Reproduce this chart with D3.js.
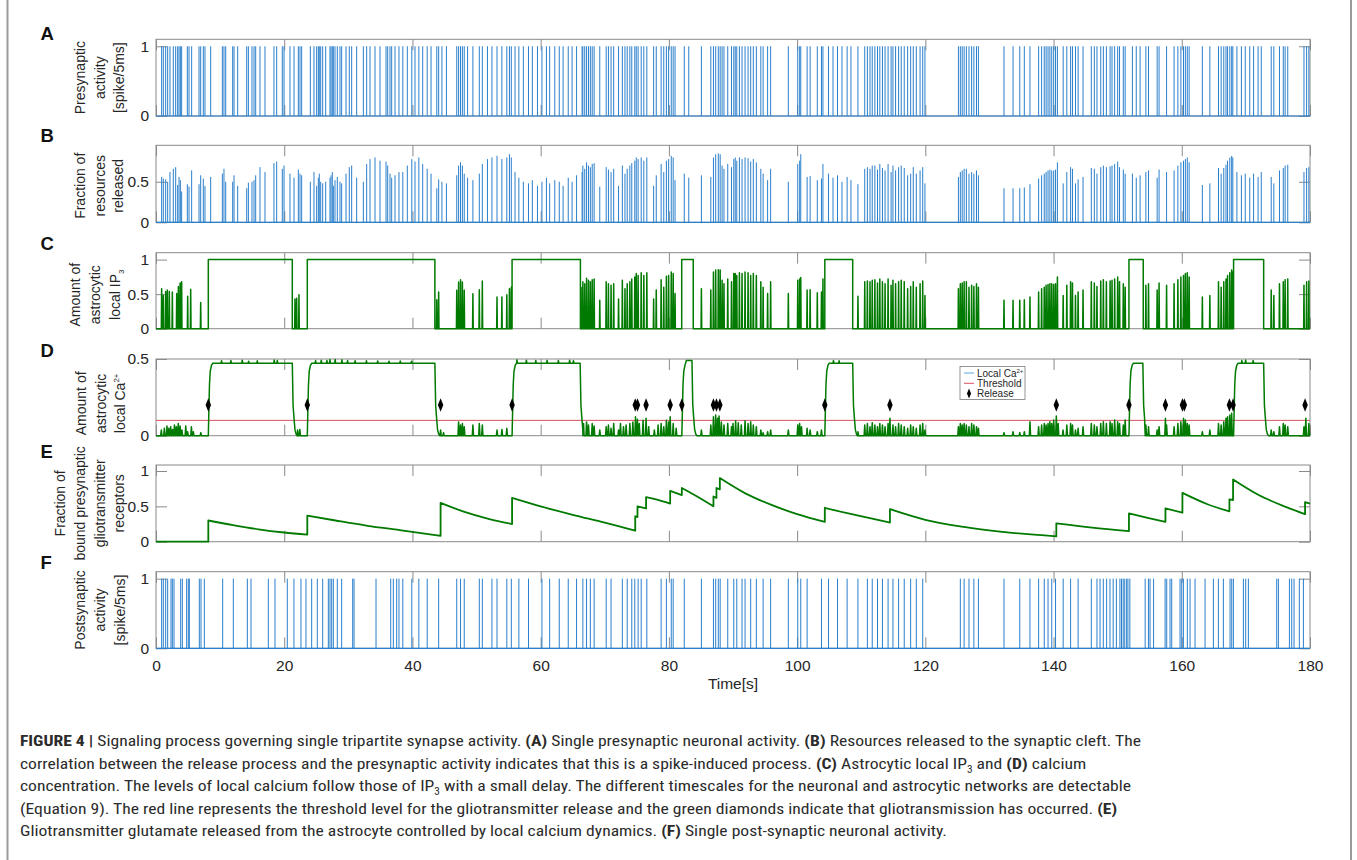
<!DOCTYPE html>
<html><head><meta charset="utf-8">
<script src="https://cdn.jsdelivr.net/npm/d3@7"></script>
<style>
body{margin:0;background:#fff;}
svg{display:block;font-family:"Liberation Sans",Arial,Helvetica,sans-serif;}
</style></head><body>
<svg id="chart" width="1357" height="860"></svg>
<script>
// ---------------- DATA ----------------
const xTicks = [0,20,40,60,80,100,120,140,160,180];
const yTicksA = [0,1], yTicksB = [0,0.5], yTicksC = [0,0.5,1], yTicksD = [0,0.5], yTicksE = [0,0.5,1], yTicksF = [0,1];

// (A)+(B) presynaptic spike times [s] with the fraction of resources released at each spike
const presynEvents = [[0.88,.56],[1.14,.54],[1.51,.53],[1.82,.5],[2.18,.62],[2.70,.66],[3.07,.68],[3.38,.46],[3.59,.56],[3.80,.52],[4.0,.38],[4.89,.47],[5.15,.44],[5.56,.64],[6.71,.47],[6.97,.58],[7.38,.54],[7.64,.45],[8.53,.56],[10.35,.6],[10.6,.66],[10.87,.5],[11.96,.5],[12.17,.58],[12.74,.45],[14.15,.42],[14.41,.49],[14.97,.5],[15.29,.52],[15.55,.58],[16.22,.68],[17.0,.62],[18.4,.73],[18.82,.75],[19.7,.66],[19.97,.7],[20.9,.6],[21.53,.55],[22.2,.65],[22.46,.6],[22.72,.58],[24.07,.5],[24.64,.62],[25.06,.45],[25.32,.55],[25.47,.6],[25.69,.5],[26.0,.48],[26.47,.5],[27.14,.55],[27.3,.58],[27.5,.62],[27.66,.45],[27.92,.52],[28.28,.56],[28.7,.5],[28.96,.48],[29.64,.6],[30.15,.68],[30.52,.7],[31.3,.55],[32.34,.5],[32.86,.72],[33.38,.78],[34.16,.8],[34.94,.76],[35.88,.75],[36.14,.7],[36.5,.6],[36.76,.55],[37.28,.58],[37.9,.62],
 [38.5,.62],[39.2,.7],[39.9,.78],[40.4,.75],[41.0,.8],[41.6,.72],[42.3,.66],[42.9,.6],
 [43.8,.42],[44.09,.53],[44.6,.5],[45.3,.48],[46.91,.58],[47.2,.7],[47.5,.74],[47.79,.7],[48.08,.6],[48.6,.55],[49.43,.52],[50.43,.6],[50.9,.72],[51.7,.78],[52.4,.8],[53.19,.82],[53.95,.78],[54.72,.8],[55.13,.84],[55.42,.8],
 [56.0,.62],[56.6,.55],[57.3,.5],[58.1,.48],[58.7,.52],[59.5,.45],[60.2,.5],[60.9,.55],[61.4,.48],[62.2,.52],[62.9,.5],[63.5,.45],[64.3,.55],[64.9,.5],[65.6,.58],
 [66.46,.62],[66.58,.7],[66.87,.66],[67.16,.74],[67.46,.7],[67.75,.68],[68.04,.72],[68.34,.73],[69.22,.44],[70.22,.68],[70.57,.65],[70.98,.62],[71.39,.66],[72.15,.45],[72.74,.7],[73.15,.6],[73.5,.66],[73.91,.7],[74.21,.73],[74.68,.76],[74.91,.8],[75.2,.78],[75.68,.8],[76.09,.76],[76.56,.8],[77.62,.45],[78.03,.58],[78.79,.72],[79.2,.62],[79.61,.76],[79.96,.78],[80.37,.82],[80.67,.8],[80.96,.52],
 [82.4,.6],[83.1,.55],
 [85.07,.58],[86.54,.56],[86.95,.8],[87.3,.84],[87.71,.85],[88.0,.84],[88.3,.7],[88.59,.66],[89.18,.72],[89.77,.68],[90.12,.78],[90.35,.8],[90.59,.76],[91.0,.8],[91.41,.78],[91.88,.8],[92.35,.79],[92.76,.75],[93.17,.78],[93.64,.74],[94.34,.66],[94.7,.6],[95.4,.52],[95.87,.66],
 [98.63,.5],[100.1,.72],[100.4,.76],[100.57,.84],[101.56,.56],[102.03,.57],[103.15,.52],[103.8,.54],[104.03,.72],
 [104.9,.6],[105.6,.55],[106.3,.58],[107.0,.5],[107.8,.56],[108.4,.52],
 [109.49,.47],[110.55,.66],[110.96,.68],[111.37,.66],[111.72,.7],[112.13,.7],[112.54,.65],[112.9,.72],[113.31,.67],[113.72,.64],[114.19,.72],[114.66,.62],[114.95,.7],[115.36,.64],[115.83,.68],[116.24,.7],[116.71,.67],[117.24,.58],[117.71,.6],[118.12,.68],[118.59,.6],[119.18,.64],[119.59,.68],[119.94,.48],
 [125.16,.56],[125.46,.62],[125.75,.64],[126.05,.66],[126.4,.66],[126.81,.6],[127.22,.62],[127.57,.6],[127.98,.64],[128.28,.58],
 [132.27,.42],[133.68,.42],[134.73,.42],[135.44,.43],[136.32,.47],
 [137.67,.54],[138.14,.58],[138.55,.6],[138.84,.62],[139.14,.64],[139.43,.65],[139.72,.64],[140.02,.64],[140.31,.65],[140.6,.74],
 [141.5,.48],[142.07,.62],[142.66,.68],[142.95,.66],[143.42,.48],[143.83,.53],[144.6,.56],
 [145.89,.67],[146.36,.66],[146.77,.6],[147.36,.68],[147.77,.7],[148.24,.68],[148.82,.69],[149.12,.7],[149.53,.72],[150.0,.75],[150.29,.68],[150.88,.65],[151.17,.6],
 [152.3,.6],[152.9,.55],[153.5,.58],
 [154.4,.62],[154.81,.64],[156.16,.55],[156.46,.65],[157.63,.62],[158.8,.64],[159.39,.7],[159.86,.74],[160.27,.76],[160.56,.78],[160.86,.8],[161.15,.74],
 [163.21,.46],[164.38,.48],[165.73,.67],[166.14,.6],[166.55,.67],[166.9,.71],[167.14,.76],[167.49,.8],[167.78,.82],[167.96,.8],
 [168.6,.62],[169.3,.58],[169.9,.6],[170.6,.55],[171.2,.6],[171.9,.56],[172.4,.62],
 [173.95,.56],[174.36,.48],[175.24,.64],[175.83,.67],[176.12,.7],[176.53,.71],[179.06,.62],[179.47,.67],[179.82,.68]];

// (F) postsynaptic spike times [s]
const postSpikes = [0.88,1.14,1.51,1.82,2.34,2.55,2.81,3.85,4.11,4.78,5.04,5.2,6.76,7.02,7.54,10.4,12.06,14.25,14.82,17.52,18.56,20.48,21.52,22.61,23.39,24.28,25.16,26.0,26.88,27.14,27.4,27.66,28.28,28.96,30.68,30.89,34.32,36.61,37.02,37.54,37.9,
 38.5,39.9,41.0,42.3,44.09,46.91,47.5,48.08,50.43,50.9,52.4,53.19,54.72,55.42,56.6,58.1,60.2,61.4,62.9,64.3,65.6,66.58,67.16,67.75,68.34,70.22,70.98,72.74,73.5,74.21,74.68,75.2,75.68,76.56,78.79,79.61,80.37,80.67,82.4,85.07,86.95,87.3,87.71,88.0,89.18,90.12,90.59,91.41,91.88,92.76,93.64,94.7,95.87,98.63,100.1,100.57,101.56,103.8,104.9,106.3,107.8,109.49,110.96,111.72,112.54,113.31,114.19,114.95,115.83,116.71,117.71,118.59,119.59,125.46,126.05,126.81,127.57,128.28,132.27,134.73,136.32,137.67,138.55,139.14,139.72,140.31,141.5,142.66,143.83,145.89,146.77,
 147.25,147.76,148.28,148.8,149.3,149.8,150.35,150.6,150.86,151.1,151.4,151.6,151.9,154.29,154.8,155.05,155.6,157.4,157.65,158.17,158.43,159.73,159.99,160.25,160.87,161.29,162.07,163.63,164.93,165.71,166.49,167.53,167.79,168.05,169.61,169.97,170.39,174.81,175.07,176.79,177.15,177.51,178.34,178.97];

// (C) astrocytic IP3: spikes [time, height] and saturated plateaus [start, end]
const ip3Spikes = [[0.88,0.58],[1.14,0.48],[1.51,0.54],[1.77,0.56],[2.08,0.54],[2.55,0.53],[3.23,0.51],[3.49,0.61],[3.76,0.66],[4.0,0.68],[4.94,0.47],[5.41,0.57],[6.97,0.38],
 [21.68,0.43],[21.94,0.44],[22.3,0.49],
 [43.8,0.42],[44.09,0.53],[46.91,0.556],[47.2,0.676],[47.5,0.71],[47.79,0.676],[48.08,0.556],[49.43,0.507],[50.43,0.565],[50.9,0.69],[53.19,0.46],[53.95,0.46],[54.72,0.49],[55.13,0.58],[55.42,0.6],
 [66.46,0.6],[66.58,0.68],[66.87,0.65],[67.16,0.73],[67.46,0.7],[67.75,0.68],[68.04,0.71],[68.34,0.72],[69.22,0.41],[70.22,0.68],[70.57,0.65],[70.98,0.63],[71.39,0.65],[72.15,0.43],[72.74,0.7],[73.15,0.58],[73.5,0.65],[73.91,0.68],[74.21,0.72],[74.68,0.75],[74.91,0.8],[75.2,0.77],[75.68,0.81],[76.09,0.77],[76.56,0.81],[77.62,0.43],[78.03,0.56],[78.79,0.71],[79.2,0.6],[79.61,0.76],[79.96,0.77],[80.37,0.82],[80.67,0.8],[80.96,0.51],
 [85.07,0.58],[86.54,0.56],[86.95,0.82],[87.3,0.85],[87.71,0.855],[88.0,0.85],[88.3,0.7],[88.59,0.65],[89.18,0.72],[89.77,0.68],[90.12,0.8],[90.35,0.8],[90.59,0.77],[91.0,0.81],[91.41,0.8],[91.88,0.82],[92.35,0.81],[92.76,0.77],[93.17,0.8],[93.64,0.77],[94.34,0.68],[94.7,0.6],[95.4,0.51],[95.87,0.68],
 [98.63,0.51],[100.1,0.7],[100.4,0.72],[100.57,0.74],[101.56,0.56],[102.03,0.565],[103.15,0.52],[103.8,0.53],[104.03,0.72],
 [109.49,0.47],[110.55,0.68],[110.96,0.69],[111.37,0.68],[111.72,0.7],[112.13,0.71],[112.54,0.66],[112.9,0.72],[113.31,0.68],[113.72,0.65],[114.19,0.72],[114.66,0.63],[114.95,0.7],[115.36,0.65],[115.83,0.68],[116.24,0.7],[116.71,0.68],[117.24,0.58],[117.71,0.61],[118.12,0.68],[118.59,0.6],[119.18,0.65],[119.59,0.69],[119.94,0.48],
 [125.16,0.58],[125.46,0.65],[125.75,0.66],[126.05,0.68],[126.4,0.68],[126.81,0.6],[127.22,0.63],[127.57,0.61],[127.98,0.65],[128.28,0.6],
 [132.27,0.41],[133.68,0.41],[134.73,0.41],[135.44,0.42],[136.32,0.46],
 [137.67,0.53],[138.14,0.58],[138.55,0.6],[138.84,0.63],[139.14,0.64],[139.43,0.65],[139.72,0.65],[140.02,0.64],[140.31,0.65],[140.6,0.75],
 [141.5,0.48],[142.07,0.63],[142.66,0.68],[142.95,0.66],[143.42,0.48],[143.83,0.53],[144.6,0.56],
 [145.89,0.68],[146.36,0.66],[146.77,0.61],[147.36,0.69],[147.77,0.71],[148.24,0.68],[148.82,0.69],[149.12,0.7],[149.53,0.72],[150.0,0.75],[150.29,0.68],[150.88,0.65],[151.17,0.6],
 [154.4,0.63],[154.81,0.65],[156.16,0.56],[156.46,0.66],[157.63,0.63],[158.8,0.65],[159.39,0.71],[159.86,0.75],[160.27,0.77],[160.56,0.8],[160.86,0.81],[161.15,0.75],
 [163.21,0.46],[164.38,0.48],[165.73,0.68],[166.14,0.6],[166.55,0.68],[166.9,0.72],[167.14,0.77],[167.49,0.81],[167.78,0.85],[167.96,0.82],
 [173.95,0.56],[174.36,0.48],[175.24,0.65],[175.83,0.68],[176.12,0.71],[176.53,0.72],[179.06,0.63],[179.47,0.68],[179.82,0.69]];
const ip3Plateaus = [[8.16,21.26],[23.6,43.5],[55.54,66.2],[82.0,83.8],[104.32,108.67],[151.76,153.99],[168.08,172.77]];

// (D) astrocytic Ca2+: high-state intervals [rise, fall, level], baseline bumps and plateau bumps [time, value]
const caPlateaus = [[8.16,21.26,0.472],[23.6,43.5,0.472],[55.54,66.16,0.472],[82.02,83.6,0.49],[104.32,108.67,0.472],[151.76,153.93,0.472],[168.08,172.77,0.472]];
const caRiseProfile = [[0,0],[0.08,0.15],[0.18,0.33],[0.3,0.42],[0.5,0.46],[0.7,1]];
const caFallProfile = [[0,1],[0.12,0.42],[0.26,0.25],[0.42,0.08],[0.6,0.02],[0.8,0]];
const caBumps = [[0.83,.037],[1.30,.048],[1.71,.063],[2.0,.048],[2.29,.059],[2.59,.041],[2.88,.07],[3.17,.059],[3.47,.08],[3.76,.063],[4.05,.037],[4.64,.063],[4.93,.026],[5.52,.059],[5.82,.026],[6.99,.02],
 [22.08,.037],[22.43,.041],
 [44.39,.037],[44.85,.02],[47.2,.09],[47.5,.07],[47.79,.08],[48.08,.059],[49.43,.07],[50.43,.08],[50.9,.07],[53.19,.037],[53.96,.041],[54.72,.048],
 [66.69,.08],[67.16,.09],[67.46,.07],[68.04,.08],[68.34,.063],[69.22,.037],[70.22,.059],[70.57,.07],[70.98,.048],[71.39,.08],[72.15,.037],[72.45,.08],[72.92,.059],[73.33,.07],[73.91,.08],[74.38,.09],[74.79,.124],[75.09,.107],[75.38,.08],[75.97,.10],[76.44,.113],[76.85,.059],[77.73,.037],[78.32,.07],[78.79,.08],[79.2,.059],[79.61,.10],[79.96,.09],[80.2,.124],[80.67,.08],[81.14,.048],
 [85.07,.037],[86.54,.07],[86.95,.124],[87.3,.135],[87.6,.113],[87.83,.128],[88.18,.09],[88.59,.07],[89.18,.08],[89.77,.059],[90.0,.08],[90.41,.098],[90.82,.085],[91.29,.07],[91.88,.098],[92.35,.08],[92.76,.091],[93.17,.07],[93.64,.059],[94.34,.037],[94.7,.02],[95.4,.026],[95.87,.037],
 [98.63,.037],[100.1,.07],[100.39,.08],[100.68,.059],[101.56,.048],[102.03,.037],[103.15,.026],[103.8,.037],
 [109.49,.026],[110.55,.07],[110.96,.08],[111.37,.059],[111.72,.085],[112.13,.07],[112.54,.059],[112.9,.08],[113.31,.07],[113.72,.059],[114.19,.08],[114.48,.113],[114.95,.07],[115.36,.059],[115.83,.08],[116.24,.07],[116.71,.059],[117.24,.048],[117.71,.07],[118.12,.059],[118.59,.048],[119.18,.07],[119.59,.08],[119.94,.037],
 [125.16,.059],[125.46,.08],[125.75,.07],[126.05,.08],[126.4,.07],[126.81,.059],[127.22,.08],[127.57,.07],[127.98,.059],[128.28,.048],
 [132.27,.02],[133.68,.026],[134.73,.02],[135.44,.026],[136.32,.091],
 [137.67,.059],[138.14,.07],[138.55,.08],[138.84,.07],[139.14,.08],[139.43,.091],[139.72,.08],[140.02,.102],[140.43,.128],[140.72,.08],
 [141.48,.037],[142.07,.07],[142.66,.08],[142.95,.07],[143.42,.037],[143.83,.048],[144.6,.059],
 [145.89,.08],[146.36,.07],[146.77,.059],[147.36,.08],[147.77,.091],[148.24,.08],[148.82,.091],[149.12,.08],[149.53,.102],[150.0,.091],[150.29,.08],[150.88,.07],[151.17,.102],
 [154.4,.07],[154.81,.059],[156.16,.037],[156.46,.059],[157.45,.113],[157.63,.07],[158.8,.059],[159.39,.08],[159.86,.091],[160.27,.113],[160.56,.102],[160.86,.08],[161.15,.07],
 [163.21,.026],[164.38,.037],[165.73,.08],[166.14,.07],[166.55,.091],[166.9,.113],[167.14,.124],[167.49,.135],[167.78,.146],
 [173.95,.037],[174.36,.026],[175.24,.059],[175.83,.08],[176.12,.07],[176.53,.059],[179.06,.059],[179.35,.113],[179.82,.08]];
const caPlateauBumps = [[10.22,.489],[11.69,.49],[13.45,.492],[14.45,.486],[15.8,.488],[18.44,.493],[18.91,.49],
 [24.89,.49],[25.78,.492],[26.66,.49],[27.13,.496],[27.95,.497],[29.0,.495],[29.88,.49],[31.06,.489],[32.82,.488],[34.58,.487],[36.34,.486],[38.1,.487],[39.86,.486],
 [56.3,.495],[57.77,.492],[59.24,.49],[61.0,.491],[62.76,.49],[64.52,.492],[65.11,.489],
 [105.67,.49],[106.55,.488],
 [168.78,.495],[169.37,.49],[169.96,.493],[171.13,.49]];
const caThreshold = 0.1;
const releaseTimes = [8.16,23.6,44.39,55.54,74.75,75.1,76.44,80.2,82.02,86.95,87.42,87.95,104.32,114.48,140.43,151.76,157.45,160.1,160.4,167.43,168.0,179.23];
const releaseMarkerLevel = 0.2;

// (E) fraction of bound presynaptic gliotransmitter receptors: decay segments [time, value]
const glioSegments = [
 [[0,0],[8.16,0]],
 [[8.16,0.30],[12,0.235],[16,0.175],[20,0.13],[23.6,0.10]],
 [[23.6,0.37],[28,0.30],[33,0.225],[38,0.165],[44.39,0.084]],
 [[44.39,0.55],[48,0.425],[52,0.32],[55.54,0.25]],
 [[55.54,0.62],[60,0.5],[65,0.38],[70,0.27],[74.75,0.155]],
 [[74.75,0.36],[75.1,0.35]],
 [[75.1,0.5],[76.44,0.47]],
 [[76.44,0.63],[78,0.6],[80.2,0.54]],
 [[80.2,0.72],[82.02,0.66]],
 [[82.02,0.76],[84,0.66],[86.95,0.5]],
 [[86.95,0.64],[87.42,0.62]],
 [[87.42,0.76],[87.95,0.74]],
 [[87.95,0.9],[92,0.68],[96,0.52],[100,0.39],[104.32,0.28]],
 [[104.32,0.48],[108,0.4],[111,0.34],[114.48,0.27]],
 [[114.48,0.46],[120,0.31],[126,0.21],[132,0.14],[140.43,0.075]],
 [[140.43,0.26],[146,0.2],[151.76,0.15]],
 [[151.76,0.4],[154.5,0.34],[157.45,0.28]],
 [[157.45,0.47],[160.1,0.41]],
 [[160.1,0.69],[164,0.53],[167.43,0.43]],
 [[167.43,0.6],[168.0,0.59]],
 [[168.0,0.88],[172,0.66],[176,0.5],[179.23,0.39]],
 [[179.23,0.56],[180,0.54]]
];

const panelLetters = ["A","B","C","D","E","F"];
const xLabel = "Time[s]";

// ---------------- DRAWING ----------------
const svg = d3.select("#chart");
const L = 156, R = 1310;
const x = d3.scaleLinear().domain([0,180]).range([L,R]);
const BLUE = "#2a7fcc", GREEN = "#007a00", GRAY = "#8a8a8a", TXT = "#262626";

// figure frame
svg.append("line").attr("x1",7.5).attr("x2",7.5).attr("y1",0).attr("y2",860).attr("stroke","#9a9a9a").attr("stroke-width",2);
svg.append("line").attr("x1",1351).attr("x2",1351).attr("y1",0).attr("y2",860).attr("stroke","#9a9a9a").attr("stroke-width",2);

const panels = [
 {top:39.3, bottom:116, ymax:1.1, ticks:yTicksA, lab:[["Presynaptic"],["activity"],["[spike/5ms]"]], lx:[80,100,119], ly:0, letterY:40},
 {top:145.3, bottom:222.3, ymax:0.95, ticks:yTicksB, lab:[["Fraction of"],["resources"],["released"]], lx:[80,100,118], ly:2, letterY:142},
 {top:252.7, bottom:328.7, ymax:1.1, ticks:yTicksC, lab:[["Amount of"],["astrocytic"],["local IP",["3","sub"]]], lx:[75,95,115], ly:4, letterY:250},
 {top:359, bottom:435.7, ymax:0.5, ticks:yTicksD, lab:[["Amount of"],["astrocytic"],["local Ca",["2+","sup"]]], lx:[81,101,120], ly:6, letterY:357},
 {top:465, bottom:541.7, ymax:1.085, ticks:yTicksE, lab:[["Fraction of"],["bound presynaptic"],["gliotransmitter"],["receptors"]], lx:[60,80,100,119], ly:0, letterY:458},
 {top:571.7, bottom:648.3, ymax:1.1, ticks:yTicksF, lab:[["Postsynaptic"],["activity"],["[spike/5ms]"]], lx:[80,100,120], ly:0, letterY:569}
];
panels.forEach(p => { p.y = d3.scaleLinear().domain([0,p.ymax]).range([p.bottom,p.top]); });

function drawFrame(p, i){
  const g = svg.append("g");
  const fmt = d => String(d);
  const ax = g.append("g").attr("transform",`translate(${L},0)`).call(d3.axisLeft(p.y).tickValues(p.ticks).tickSizeInner(-11).tickSizeOuter(0).tickPadding(7).tickFormat(fmt));
  const axr = g.append("g").attr("transform",`translate(${R},0)`).call(d3.axisRight(p.y).tickValues(p.ticks).tickSizeInner(-11).tickSizeOuter(0).tickFormat(""));
  const axt = g.append("g").attr("transform",`translate(0,${p.top})`).call(d3.axisTop(x).tickValues(xTicks).tickSizeInner(-11).tickSizeOuter(0).tickFormat(""));
  const axb = g.append("g").attr("transform",`translate(0,${p.bottom})`).call(d3.axisBottom(x).tickValues(xTicks).tickSizeInner(-11).tickSizeOuter(0).tickPadding(11.7).tickFormat(i===5?fmt:""));
  [ax,axr,axt,axb].forEach(a=>{a.select(".domain").remove(); a.selectAll("line").attr("stroke",GRAY); a.selectAll("text").attr("fill",TXT).style("font-size","15.5px").style("font-family","'Liberation Sans',Arial,sans-serif");});
  g.append("rect").attr("x",L).attr("y",p.top).attr("width",R-L).attr("height",p.bottom-p.top).attr("fill","none").attr("stroke",GRAY).attr("stroke-width",1);
  svg.append("text").attr("x",40.5).attr("y",p.letterY).text(panelLetters[i]).attr("font-weight","bold").attr("font-size",18.5).attr("fill","#111");
  const cy = (p.top+p.bottom)/2 + p.ly;
  p.lab.forEach((parts,k)=>{
    const t = svg.append("text").attr("transform",`translate(${p.lx[k]},${cy}) rotate(-90)`).attr("text-anchor","middle").attr("dy","0.35em").attr("font-size",14).attr("fill",TXT);
    parts.forEach(pt=>{
      if(typeof pt === "string") t.append("tspan").text(pt);
      else t.append("tspan").text(pt[0]).attr("font-size",8).attr("dy", pt[1]==="sub"?4:-6);
    });
  });
}
panels.forEach(drawFrame);

function spikeTrain(p, data, tf, hf){
  const g = svg.append("g");
  g.selectAll("line").data(data).join("line").attr("x1",d=>x(tf(d))).attr("x2",d=>x(tf(d))).attr("y1",p.y(0)).attr("y2",d=>p.y(hf(d))).attr("stroke",BLUE).attr("stroke-width",1);
  g.append("line").attr("x1",x(0)).attr("x2",x(180)).attr("y1",p.y(0)).attr("y2",p.y(0)).attr("stroke",BLUE).attr("stroke-width",1.2);
}
spikeTrain(panels[0], presynEvents, d=>d[0], d=>1);
spikeTrain(panels[1], presynEvents, d=>d[0], d=>d[1]);
spikeTrain(panels[5], postSpikes, d=>d, d=>1);

// (C) IP3 trace
(function(){
  const p = panels[2];
  const pts = [[0,0]];
  ip3Spikes.forEach(([t,h])=>{ pts.push([t-0.05,0],[t,h],[t+0.05,0]); });
  ip3Plateaus.forEach(([s,e])=>{ pts.push([s,0],[s+0.001,1],[e,1],[e+0.001,0]); });
  pts.push([180,0]);
  pts.sort((a,b)=>a[0]-b[0]);
  const line = d3.line().x(d=>x(d[0])).y(d=>p.y(d[1]));
  svg.append("path").attr("d",line(pts)).attr("fill","none").attr("stroke",GREEN).attr("stroke-width",1.5).attr("stroke-linejoin","round");
})();

// (D) Ca2+ trace
(function(){
  const p = panels[3];
  const pts = [[0,0]];
  caBumps.forEach(([t,h])=>{ pts.push([t-0.1,0],[t,h],[t+0.1,0]); });
  caPlateaus.forEach(([s,e,lvl])=>{
    caRiseProfile.forEach(([dt,v],k)=>pts.push([s+dt, k===caRiseProfile.length-1? lvl : v]));
    caPlateauBumps.filter(b=>b[0]>s+0.7 && b[0]<e).forEach(([t,h])=>pts.push([t-0.08,lvl],[t,h],[t+0.08,lvl]));
    caFallProfile.forEach(([dt,v])=>pts.push([e+dt, v*lvl]));
  });
  pts.push([180,0]);
  pts.sort((a,b)=>a[0]-b[0]);
  const line = d3.line().x(d=>x(d[0])).y(d=>p.y(d[1]));
  svg.append("line").attr("x1",x(0)).attr("x2",x(180)).attr("y1",p.y(caThreshold)).attr("y2",p.y(caThreshold)).attr("stroke","#d9505e").attr("stroke-width",1);
  svg.append("path").attr("d",line(pts)).attr("fill","none").attr("stroke",GREEN).attr("stroke-width",1.5).attr("stroke-linejoin","round");
  const sym = d3.symbol().type(d3.symbolDiamond).size(40);
  svg.append("g").selectAll("path").data(releaseTimes).join("path")
    .attr("d",sym).attr("transform",d=>`translate(${x(d)},${p.y(releaseMarkerLevel)}) scale(0.8,1.15)`).attr("fill","#000");
  const lg = svg.append("g").attr("transform","translate(960,366.5)");
  lg.append("rect").attr("width",65).attr("height",33).attr("fill","#fff").attr("stroke","#7a7a7a").attr("stroke-width",0.8);
  const items = [["Local Ca","#5aa9e6"],["Threshold","#d9505e"],["Release",null]];
  items.forEach((it,k)=>{
    const yy = 6.5 + k*10.3;
    if(it[1]) lg.append("line").attr("x1",4).attr("x2",14).attr("y1",yy).attr("y2",yy).attr("stroke",it[1]).attr("stroke-width",1);
    else lg.append("path").attr("d",d3.symbol().type(d3.symbolDiamond).size(22)).attr("transform",`translate(9,${yy}) scale(0.8,1.15)`).attr("fill","#000");
    const t = lg.append("text").attr("x",17).attr("y",yy).attr("dy","0.35em").attr("font-size",10).attr("fill",TXT).text(it[0]);
    if(k===0) t.append("tspan").text("2+").attr("font-size",6).attr("dy",-4);
  });
})();

// (E) gliotransmitter receptors
(function(){
  const p = panels[4];
  const seg = d3.line().x(d=>x(d[0])).y(d=>p.y(d[1])).curve(d3.curveMonotoneX);
  let dstr = "";
  glioSegments.forEach((s,i)=>{ const d = seg(s); dstr += (i===0? d : "L" + d.slice(1)); });
  svg.append("path").attr("d",dstr).attr("fill","none").attr("stroke",GREEN).attr("stroke-width",1.8).attr("stroke-linejoin","round");
})();

// x-axis label
svg.append("text").attr("x",(L+R)/2).attr("y",689).attr("text-anchor","middle").attr("font-size",15.5).attr("fill",TXT).text(xLabel);

// caption
const capFont = "'Liberation Sans Narrow','Roboto Condensed','Liberation Sans',Arial,sans-serif";
const captionLines = [
 [["FIGURE 4 |",1],[" Signaling process governing single tripartite synapse activity. ",0],["(A)",1],[" Single presynaptic neuronal activity. ",0],["(B)",1],[" Resources released to the synaptic cleft. The",0]],
 [["correlation between the release process and the presynaptic activity indicates that this is a spike-induced process. ",0],["(C)",1],[" Astrocytic local IP",0],["3",2],[" and ",0],["(D)",1],[" calcium",0]],
 [["concentration. The levels of local calcium follow those of IP",0],["3",2],[" with a small delay. The different timescales for the neuronal and astrocytic networks are detectable",0]],
 [["(Equation 9). The red line represents the threshold level for the gliotransmitter release and the green diamonds indicate that gliotransmission has occurred. ",0],["(E)",1]],
 [["Gliotransmitter glutamate released from the astrocyte controlled by local calcium dynamics. ",0],["(F)",1],[" Single post-synaptic neuronal activity.",0]]
];
const firstLineWidth = 1121;
let capScale = null;
captionLines.forEach((parts,k)=>{
  const t = svg.append("text").attr("x",20).attr("y",746 + k*22.5).attr("font-size",15.5).attr("fill","#2b2b2b").style("font-family",capFont);
  let sub = false;
  parts.forEach(([s,b])=>{
    const ts = t.append("tspan").text(s);
    if(b===1) ts.attr("font-weight","bold");
    if(b===2){ ts.attr("font-size",10).attr("dy",4); sub = true; }
    else if(sub){ ts.attr("dy",-4); sub = false; }
  });
  const w = t.node().getComputedTextLength();
  if(capScale===null) capScale = firstLineWidth / w;
  t.attr("textLength", w*capScale).attr("lengthAdjust","spacingAndGlyphs");
});
</script>
</body></html>
